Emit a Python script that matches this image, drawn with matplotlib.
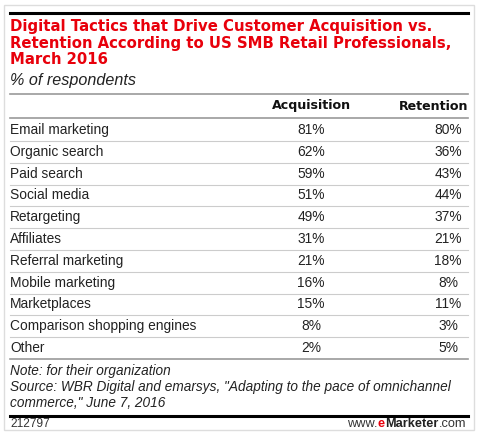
import matplotlib.pyplot as plt
from matplotlib.lines import Line2D

tactics = [
    "Email marketing", "Organic search", "Paid search", "Social media",
    "Retargeting", "Affiliates", "Referral marketing", "Mobile marketing",
    "Marketplaces", "Comparison shopping engines", "Other",
]
acquisition = [81, 62, 59, 51, 49, 31, 21, 16, 15, 8, 2]
retention = [80, 36, 43, 44, 37, 21, 18, 8, 11, 3, 5]
columns = ["Acquisition", "Retention"]

title = ("Digital Tactics that Drive Customer Acquisition vs.\n"
         "Retention According to US SMB Retail Professionals,\n"
         "March 2016")
subtitle = "% of respondents"
note = ("Note: for their organization\n"
        "Source: WBR Digital and emarsys, \"Adapting to the pace of omnichannel\n"
        "commerce,\" June 7, 2016")
chart_id = "212797"

body_font = "Liberation Sans"
title_font = "DejaVu Sans"

fig = plt.figure(figsize=(4.8, 4.37), dpi=100)
ax = fig.add_axes([0, 0, 1, 1])
ax.set_xlim(0, 480)
ax.set_ylim(437, 0)
ax.axis("off")


def hline(y, color, lw, x0=10, x1=468):
    ax.add_line(Line2D([x0, x1], [y, y], color=color, lw=lw))


# outer frame
ax.add_patch(plt.Rectangle((4, 5), 470, 425, fill=False, ec="#dddddd", lw=1))

hline(13, "black", 2.2)
ax.text(10, 19, title, color="#e8000b", fontsize=10.7, fontweight="bold",
        family=title_font, va="top", ha="left", linespacing=1.13)
ax.text(10, 81, subtitle, color="#222222", fontsize=11.6, style="italic",
        family=body_font, va="center", ha="left")
hline(94, "#999999", 1.2)

acq_x = 311
ret_x = 448
ax.text(acq_x, 106, columns[0], fontsize=9.1, fontweight="bold",
        family=title_font, ha="center", va="center", color="#111111")
ax.text(468, 106, columns[1], fontsize=9.1, fontweight="bold",
        family=title_font, ha="right", va="center", color="#111111")
hline(118, "#999999", 1.2)

row_h = 21.8
y0 = 130
for i, (name, a, r) in enumerate(zip(tactics, acquisition, retention)):
    y = y0 + i * row_h
    ax.text(10, y, name, fontsize=9.9, family=body_font, ha="left",
            va="center", color="#222222")
    ax.text(acq_x, y, f"{a}%", fontsize=9.9, family=body_font, ha="center",
            va="center", color="#222222")
    ax.text(ret_x, y, f"{r}%", fontsize=9.9, family=body_font, ha="center",
            va="center", color="#222222")
    if i < len(tactics) - 1:
        hline(y + row_h / 2, "#cccccc", 0.8)
hline(y0 + (len(tactics) - 0.5) * row_h, "#999999", 1.2)

ax.text(10, 364, note, fontsize=9.8, style="italic", family=body_font,
        ha="left", va="top", color="#222222", linespacing=1.2)
hline(416, "black", 2.2)
ax.text(10, 424, chart_id, fontsize=8.6, family=body_font, ha="left",
        va="center", color="#333333")

# eMarketer logo text, laid out left to right then shifted to end at x=466
fig.canvas.draw()
r = fig.canvas.get_renderer()
inv = ax.transData.inverted()


def right_edge(t):
    bb = t.get_window_extent(renderer=r)
    return inv.transform((bb.x1, bb.y0))[0]


parts = [("www.", "normal", "#333333"), ("e", "bold", "#e8000b"),
         ("Marketer", "bold", "#222222"), (".com", "normal", "#333333")]
x = 0
texts = []
for s, w, c in parts:
    t = ax.text(x, 424, s, fontsize=9.2, family=body_font, fontweight=w,
                ha="left", va="center", color=c)
    x = right_edge(t)
    texts.append(t)
shift = 466 - x
for t in texts:
    px, py = t.get_position()
    t.set_position((px + shift, py))

fig.savefig("out.png", dpi=100)
